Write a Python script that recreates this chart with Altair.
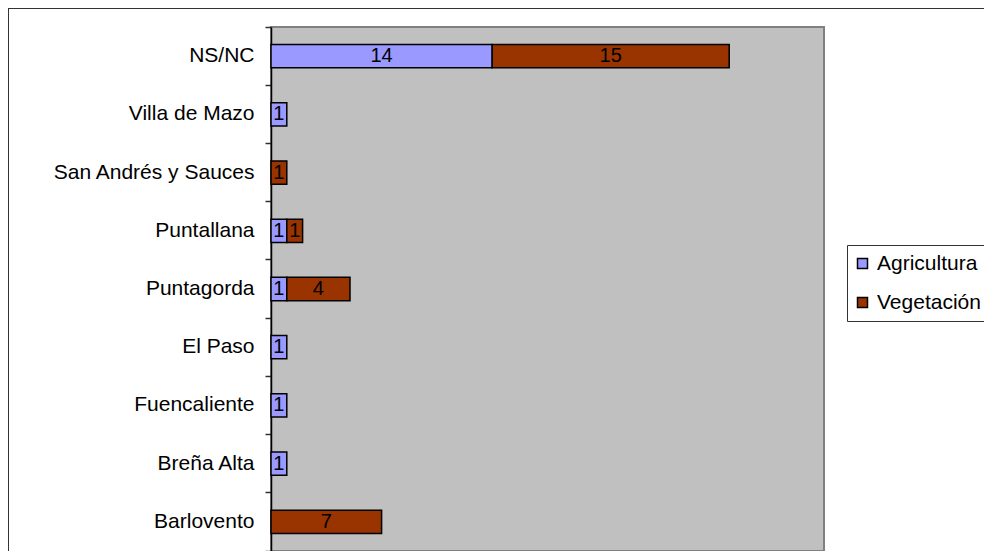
import altair as alt
import pandas as pd

categories = ["NS/NC", "Villa de Mazo", "San Andrés y Sauces", "Puntallana",
              "Puntagorda", "El Paso", "Fuencaliente", "Breña Alta", "Barlovento"]
agricultura = [14, 1, 0, 1, 1, 1, 1, 1, 0]
vegetacion = [15, 0, 1, 1, 4, 0, 0, 0, 7]
series = ["Agricultura", "Vegetación"]
colors = ["#9999FF", "#993300"]

rows = []
for c, a, v in zip(categories, agricultura, vegetacion):
    rows.append({"cat": c, "serie": series[0], "orden": 0, "valor": a})
    rows.append({"cat": c, "serie": series[1], "orden": 1, "valor": v})
df = pd.DataFrame(rows)
df = df[df["valor"] > 0]

FONT = "Liberation Sans"
W, H = 553, 524

y_enc = alt.Y(
    "cat:N",
    sort=categories,
    scale=alt.Scale(paddingInner=0, paddingOuter=0),
    axis=alt.Axis(title=None, bandPosition=1, tickExtra=True, labelLimit=400),
)

base = alt.Chart(df).transform_stack(
    stack="valor", groupby=["cat"], as_=["x0", "x1"],
    sort=[alt.SortField("orden")]
).transform_calculate(mid="(datum.x0 + datum.x1) / 2")

bars = base.mark_bar(height={"band": 0.4}, stroke="black", strokeWidth=1.5).encode(
    x=alt.X("x0:Q", scale=alt.Scale(domain=[0, 35], nice=False, zero=True), axis=None),
    x2="x1:Q",
    y=y_enc,
    color=alt.Color(
        "serie:N",
        scale=alt.Scale(domain=series, range=colors),
        legend=alt.Legend(
            title=None, orient="none", legendX=576, legendY=218,
            strokeColor="#333333", fillColor="white", padding=8,
            labelFont=FONT, labelFontSize=21, labelColor="black",
            symbolType="square", symbolSize=100,
            symbolStrokeColor="black", symbolStrokeWidth=1.5,
            symbolOffset=-3,
            rowPadding=17, labelOffset=4,
        ),
    ),
    order=alt.Order("orden:Q"),
)

labels = base.mark_text(font=FONT, fontSize=20, color="black",
                        align="center", baseline="middle").encode(
    x=alt.X("mid:Q"),
    y=alt.Y("cat:N", sort=categories),
    text="valor:Q",
)

border = alt.Chart(pd.DataFrame({"k": [0]})).mark_rect(
    fill="transparent", stroke="#333333", strokeWidth=2
).encode(
    x=alt.value(-263), x2=alt.value(W + 400),
    y=alt.value(-19), y2=alt.value(H + 400),
)

chart = alt.layer(border, bars, labels).properties(
    width=W, height=H,
    padding={"left": 263, "top": 19, "right": 160, "bottom": 0},
    autosize=alt.AutoSizeParams(type="none"),
).configure_view(
    fill="#C0C0C0", stroke="#808080", strokeWidth=2
).configure_axis(
    domainColor="black", domainWidth=1.5, tickColor="#303030", tickSize=6,
    tickWidth=1.5, labelFont=FONT, labelFontSize=21, labelColor="black",
    labelPadding=11, grid=False,
)

chart.save("out.html", embed_options={"renderer": "svg", "actions": False})
